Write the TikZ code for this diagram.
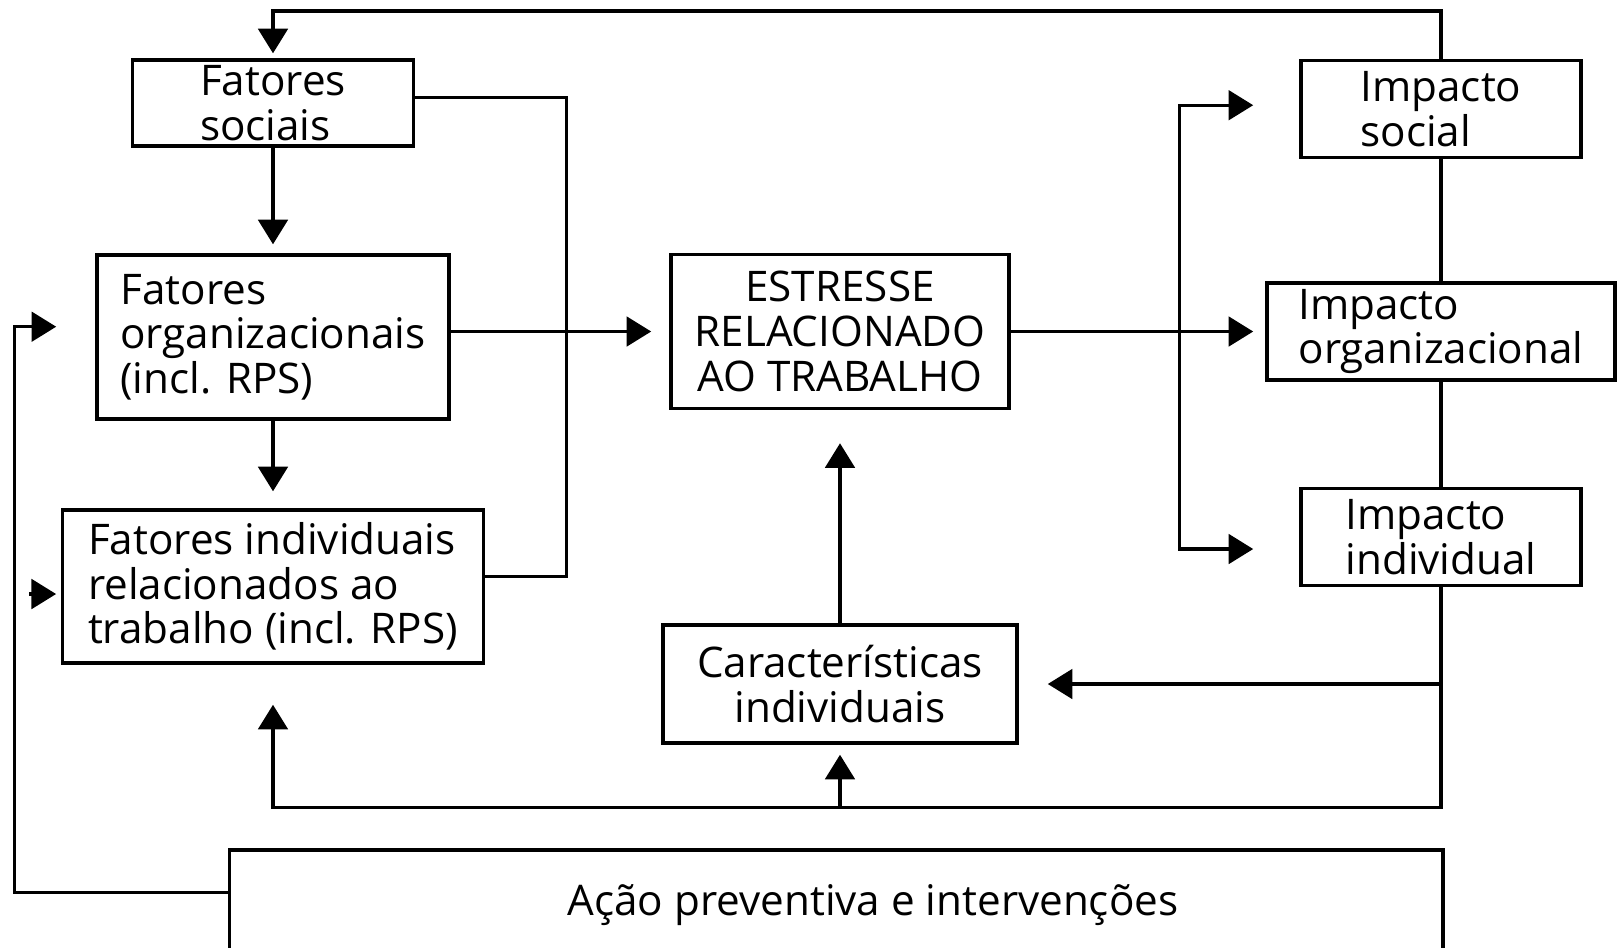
\documentclass[tikz,border=0pt]{standalone}
\usepackage{fontspec}
\setmainfont{Open Sans}
\usepackage{tikz}
\usetikzlibrary{arrows.meta,positioning,calc}
\tikzset{
  box/.style={
    rectangle, draw=black, line width=0.95pt,
    fill=white, inner sep=0pt,
    font=\fontsize{12pt}{12.7pt}\selectfont,
    align=left
  },
  boxc/.style={box, align=center},
  wire/.style={line width=0.95pt},
  arr/.style={wire, -{Triangle[length=7pt,width=8.4pt]}},
}

\begin{document}
\begin{tikzpicture}[x=0.01cm, y=-0.01cm]

  \clip (0,0) rectangle (1617,947);

  % ── Column positions ────────────────────────────────────────────────────────
  \def\colL{273}      % Fatores
  \def\colM{840}      % Estresse
  \def\colR{1441}     % Impacto

  % ── Boxes ───────────────────────────────────────────────────────────────────
  \node[box, minimum width=2.805cm, minimum height=0.86cm] (soc) at (\colL,103)
    {Fatores\\sociais};
  \node[box, minimum width=3.52cm, minimum height=1.64cm] (org) at (\colL,337)
    {Fatores\\organizacionais\\(incl. RPS)};
  \node[box, minimum width=4.21cm, minimum height=1.53cm] (ind) at (\colL,586.5)
    {Fatores individuais\\relacionados ao\\trabalho (incl. RPS)};
  \node[boxc, minimum width=3.38cm, minimum height=1.54cm] (est) at (\colM,331.5)
    {ESTRESSE\\RELACIONADO\\AO TRABALHO};
  \node[boxc, minimum width=3.54cm, minimum height=1.18cm] (car) at (\colM,684)
    {Características\\individuais};
  \node[box, minimum width=2.80cm, minimum height=0.97cm] (isoc) at (\colR,109)
    {Impacto\\social};
  \node[box, minimum width=3.48cm, minimum height=0.97cm] (iorg) at (\colR,331.5)
    {Impacto\\organizacional};
  \node[box, minimum width=2.80cm, minimum height=0.975cm] (iind) at (\colR,537)
    {Impacto\\individual};
  \node[box, anchor=north west, minimum width=12.13cm, minimum height=1.3cm]
    (acao) at (227.7,848.3) {};
  \node[font=\fontsize{12pt}{12.7pt}\selectfont, anchor=base] (acaolbl) at (873,915)
    {Ação preventiva e intervenções};

  % ── Helper coordinates ──────────────────────────────────────────────────────
  \coordinate (topY) at (0,11);
  \coordinate (botY) at (0,807.3);
  \coordinate (lftX) at (14.5,0);
  \coordinate (jn) at (566.4,331.5);
  \coordinate (br) at (1179.3,331.5);
  \coordinate (orgIn) at ([yshift=0.103cm]org.west);

  % ── Left column ─────────────────────────────────────────────────────────────
  \draw[arr, shorten >=0.05cm] (isoc.north) -- (isoc.north |- topY) -| (soc.north);
  \draw[arr, shorten >=0.09cm] (soc.south) -- (org.north);
  \draw[arr, shorten >=0.17cm] (org.south) -- (ind.north);
  \draw[wire] ([yshift=0.053cm]soc.east) -| (jn) |- ([yshift=0.098cm]ind.east);
  \draw[arr, shorten >=0.18cm] (org.east |- est.west) -- (est.west);

  % ── Right column ────────────────────────────────────────────────────────────
  \draw[arr, shorten >=0.12cm] (est.east) -- (iorg.west);
  \draw[arr, shorten >=0.46cm] (br) |- ([yshift=0.038cm]isoc.west);
  \draw[arr, shorten >=0.46cm] (br) |- ([yshift=-0.12cm]iind.west);
  \draw[wire] (isoc.south) -- (iorg.north);
  \draw[wire] (iorg.south) -- (iind.north);

  % ── Feedback loops ──────────────────────────────────────────────────────────
  \draw[arr, shorten >=0.4cm] (iind.south) -- (iind.south |- botY) -| (ind.south);
  \draw[arr, shorten >=0.1cm] (car.south |- botY) -- (car.south);
  \draw[arr, shorten >=0.29cm] (iind.south |- car.east) -- (car.east);
  \draw[arr, shorten >=0.33cm] (car.north) -- (est.south);
  \draw[arr, shorten >=0.39cm] ([yshift=-0.444cm]acao.north west) -| (orgIn -| lftX) -- (orgIn);
  \draw[arr, shorten >=0.046cm] ([xshift=-0.314cm, yshift=-0.075cm]ind.west)
    -- ([yshift=-0.075cm]ind.west);

\end{tikzpicture}
\end{document}
